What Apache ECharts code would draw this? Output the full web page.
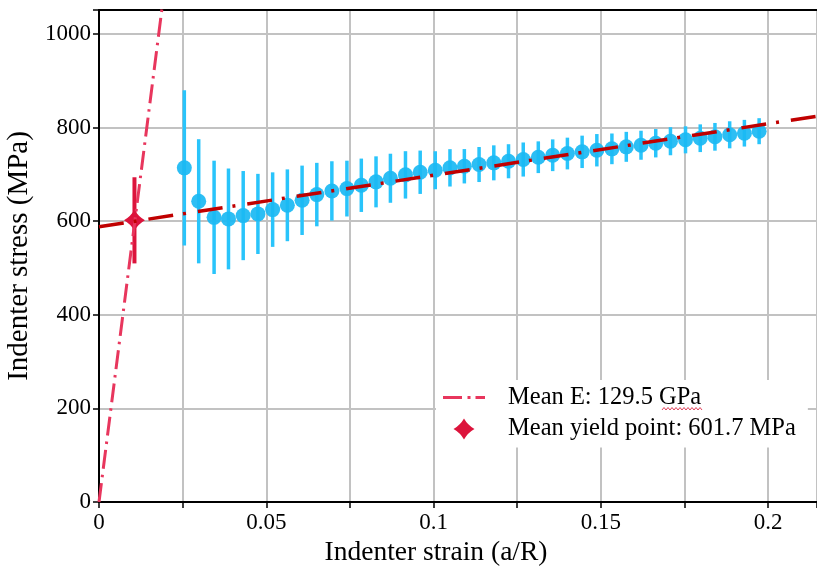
<!DOCTYPE html>
<html><head><meta charset="utf-8">
<script src="https://cdn.jsdelivr.net/npm/echarts@6/dist/echarts.min.js"></script>
<style>html,body{margin:0;padding:0;background:#fff}#c{width:817px;height:571px}</style>
</head><body><div id="c"></div>
<script>
// ---- data ----
const strain = [0.0255, 0.0298, 0.0344, 0.0387, 0.0431, 0.0475, 0.0519, 0.0563, 0.0607, 0.0651,
  0.0696, 0.0741, 0.0784, 0.0828, 0.0871, 0.0916, 0.0960, 0.1005, 0.1049, 0.1092,
  0.1136, 0.1180, 0.1224, 0.1268, 0.1313, 0.1356, 0.1400, 0.1444, 0.1488, 0.1533,
  0.1576, 0.1620, 0.1664, 0.1708, 0.1753, 0.1797, 0.1841, 0.1885, 0.1929, 0.1973];
const stress = [713.8, 642.4, 608.1, 604.7, 611.8, 615.4, 624.6, 633.8, 644.5, 656.7,
  664.5, 669.5, 676.6, 683.9, 691.6, 698.8, 704.4, 708.7, 713.8, 717.2,
  720.9, 724.5, 727.9, 731.6, 736.5, 740.7, 744.4, 748.0, 751.4, 754.4,
  758.7, 762.1, 766.4, 770.7, 773.7, 777.1, 780.1, 784.4, 787.8, 792.1];
const stressErr = [165.8, 132.6, 121.0, 107.7, 95.2, 85.6, 79.6, 76.7, 74.1, 67.8,
  63.4, 59.6, 57.0, 54.5, 52.4, 50.6, 46.3, 40.6, 39.9, 36.7,
  37.4, 37.4, 36.4, 36.4, 33.9, 33.9, 33.9, 34.6, 34.6, 32.8,
  32.0, 31.0, 30.3, 30.0, 28.9, 29.6, 29.6, 28.9, 28.5, 27.8];
const yieldStrain = [0.0106];
const yieldStress = [601.7];
const yieldErr = [92];
const elasticX = [0, 0.0195];
const elasticY = [0, 1092];
const fitX = [0, 0.215];
const fitY = [588, 824.5];
const xTickLabels = ['0', '0.05', '0.1', '0.15', '0.2'];
const yTickLabels = ['0', '200', '400', '600', '800', '1000'];
const legendNames = ['Mean E: 129.5 GPa', 'Mean yield point: 601.7 MPa'];
const xTitle = 'Indenter strain (a/R)';
const yTitle = 'Indenter stress (MPa)';

// ---- chart ----
const FONT = 'Liberation Serif';
const XMIN = 0, XMAX = 0.2146, YMIN = 0, YMAX = 1051;
const starPath = 'path://M10,0 Q13.6,6.4 20,10 Q13.6,13.6 10,20 Q6.4,13.6 0,10 Q6.4,6.4 10,0 Z';
const dashIcon = 'path://M0,0 H19 V3 H0 Z M24.5,0 H27.5 V3 H24.5 Z M32.5,0 H42 V3 H32.5 Z';
const ELASTIC = '#e8365d', YIELD = '#dc143c', FIT = '#c00000';

const blueBars = strain.map((x, i) => [x, stress[i] - stressErr[i], stress[i] + stressErr[i]]);
const bluePts = strain.map((x, i) => [x, stress[i]]);
const yieldBars = yieldStrain.map((x, i) => [x, yieldStress[i] - yieldErr[i], yieldStress[i] + yieldErr[i]]);
const yieldPts = yieldStrain.map((x, i) => [x, yieldStress[i]]);
const elasticData = elasticX.map((x, i) => [x, elasticY[i]]);
const fitData = fitX.map((x, i) => [x, fitY[i]]);

function barRenderer(color, width) {
  return function (params, api) {
    const p1 = api.coord([api.value(0), api.value(1)]);
    const p2 = api.coord([api.value(0), api.value(2)]);
    return { type: 'line', shape: { x1: p1[0], y1: p1[1], x2: p2[0], y2: p2[1] },
      style: { stroke: color, lineWidth: width } };
  };
}

// spell-check squiggle under "GPa" in the legend (decoration of the original figure)
const squiggle = [];
for (let k = 0; k <= 20; k++) squiggle.push([662 + k * 2, k % 2 ? 407.5 : 410]);

const chart = echarts.init(document.getElementById('c'), null, { renderer: 'canvas' });
chart.setOption({
  animation: false,
  backgroundColor: '#fff',
  grid: { left: 99, right: 0, top: 10, bottom: 69, containLabel: false, outerBoundsMode: 'none' },
  xAxis: [{
    type: 'value', min: XMIN, max: XMAX, interval: 0.025,
    name: xTitle, nameLocation: 'middle', nameGap: 36,
    nameTextStyle: { fontFamily: FONT, fontSize: 27.5, color: '#000', padding: [0, 44, 0, 0] },
    axisLine: { onZero: false, lineStyle: { color: '#000', width: 2 } },
    axisTick: { length: 6, lineStyle: { color: '#000', width: 1.5 } },
    axisLabel: {
      margin: 9, fontFamily: FONT, fontSize: 23, color: '#000',
      formatter: v => { const k = Math.round(v / 0.05); return (Math.abs(v - k * 0.05) < 1e-9 && k < xTickLabels.length) ? xTickLabels[k] : ''; }
    },
    splitLine: { show: true, lineStyle: { color: '#c2c2c2', width: 2 } }
  }, {
    type: 'value', position: 'top', min: XMIN, max: XMAX,
    axisLine: { show: true, onZero: false, lineStyle: { color: '#000', width: 2 } },
    axisTick: { show: false }, axisLabel: { show: false }, splitLine: { show: false }
  }],
  yAxis: {
    type: 'value', min: YMIN, max: YMAX, interval: 200,
    name: yTitle, nameLocation: 'middle', nameGap: 57,
    nameTextStyle: { fontFamily: FONT, fontSize: 29, color: '#000' },
    axisLine: { show: true, onZero: false, lineStyle: { color: '#000', width: 2 } },
    axisTick: { show: true, length: 6, lineStyle: { color: '#000', width: 1.5 } },
    axisLabel: {
      margin: 8, fontFamily: FONT, fontSize: 23, color: '#000',
      formatter: v => { const k = Math.round(v / 200); return (Math.abs(v - k * 200) < 1e-6 && k < yTickLabels.length) ? yTickLabels[k] : ''; }
    },
    splitLine: { show: true, lineStyle: { color: '#c2c2c2', width: 2 } }
  },
  legend: {
    orient: 'vertical', left: 436, top: 380, padding: [5, 12, 6, 7],
    backgroundColor: '#ffffff', itemWidth: 42, itemHeight: 21, itemGap: 6.5,
    textStyle: { fontFamily: FONT, fontSize: 24.5, color: '#000', padding: [0, 0, 0, 18] },
    data: [{ name: legendNames[0], icon: dashIcon, itemStyle: { color: ELASTIC } },
           { name: legendNames[1], icon: starPath, itemStyle: { color: YIELD } }]
  },
  graphic: [{
    type: 'polyline', z: 100, silent: true,
    shape: { points: squiggle },
    style: { stroke: '#e0405a', lineWidth: 1, fill: null }
  }],
  series: [
    { type: 'custom', name: 'errBlue', renderItem: barRenderer('#29c4fb', 3.5), data: blueBars, z: 2, silent: true },
    { type: 'scatter', name: 'points', data: bluePts, symbol: 'circle', symbolSize: 15,
      itemStyle: { color: '#1ab9f3', opacity: 0.92 }, z: 3 },
    { type: 'custom', name: 'errYield', renderItem: barRenderer(YIELD, 4), data: yieldBars, z: 4, silent: true },
    { type: 'scatter', name: legendNames[1], data: yieldPts, symbol: starPath, symbolSize: 21,
      itemStyle: { color: YIELD, opacity: 1 }, z: 5 },
    { type: 'line', name: legendNames[0], data: elasticData, symbol: 'none', showSymbol: false,
      lineStyle: { color: ELASTIC, width: 3, type: [19, 6, 2.5, 6] }, itemStyle: { color: ELASTIC }, z: 6 },
    { type: 'line', name: 'fit', data: fitData, symbol: 'none', showSymbol: false,
      lineStyle: { color: FIT, width: 3.5, type: [25, 10, 3, 12] }, itemStyle: { color: FIT }, z: 7 }
  ]
});
</script>
</body></html>
